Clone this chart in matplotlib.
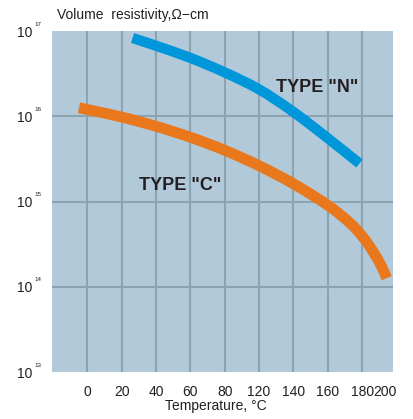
import numpy as np
import matplotlib.pyplot as plt
import matplotlib.transforms as mtransforms
from matplotlib.path import Path
from matplotlib.patches import PathPatch

plt.rcParams['font.family'] = ['Liberation Sans', 'DejaVu Sans']

# Data (x in chart grid units, 20 per grid cell) ==========================
n_x = [26.4, 40.4, 60.2, 80.1, 100.1, 120.3, 140.2, 158.4]
n_y = [8.28e16, 6.67e16, 4.82e16, 3.26e16, 2.06e16, 1.11e16, 5.48e15, 2.79e15]

c_x = [-4.8, 0.0, 20.4, 40.4, 60.2, 80.1, 100.1, 120.3, 140.2, 152.8,
       160.6, 166.4, 171.3, 174.2]
c_y = [1.26e16, 1.20e16, 9.75e15, 7.58e15, 5.65e15, 3.98e15, 2.62e15,
       1.60e15, 8.98e14, 5.61e14, 3.78e14, 2.56e14, 1.72e14, 1.26e14]

x_ticks = [0, 20, 40, 60, 80, 100, 120, 140, 160, 173]
x_labels = ['0', '20', '40', '60', '80', '120', '140', '160', '180', '200']
y_exp = [13, 14, 15, 16, 17]

# Colors
bg = '#b2c9da'
grid_c = '#8aa4b0'
blue = '#0096da'
orange = '#e9771c'
txt = '#231f20'


def smooth_path(xs, ys):
    # Catmull-Rom through the points, done in (x, log10 y) space
    p = np.column_stack([xs, np.log10(ys)])
    verts = [p[0]]
    codes = [Path.MOVETO]
    for i in range(len(p) - 1):
        p0 = p[max(i - 1, 0)]
        p1, p2 = p[i], p[i + 1]
        p3 = p[min(i + 2, len(p) - 1)]
        verts += [p1 + (p2 - p0) / 6, p2 - (p3 - p1) / 6, p2]
        codes += [Path.CURVE4] * 3
    verts = np.array(verts)
    verts[:, 1] = 10 ** verts[:, 1]
    return Path(verts, codes)


# Plot =============================================
fig = plt.figure(figsize=(4.13, 4.19), dpi=100)
ax = fig.add_axes([52/413, 1 - 372/419, 341/413, 341/419])
ax.set_facecolor(bg)
ax.set_yscale('log')
ax.set_xlim(-20.5, 177.9)
ax.set_ylim(1e13, 1e17)

ax.add_patch(PathPatch(smooth_path(n_x, n_y), fill=False, ec=blue, lw=7.4,
                       capstyle='butt', joinstyle='round', zorder=3))
ax.add_patch(PathPatch(smooth_path(c_x, c_y), fill=False, ec=orange, lw=7.8,
                       capstyle='butt', joinstyle='round', zorder=3))

ax.set_xticks(x_ticks)
ax.set_xticklabels(x_labels)
ax.set_yticks([10.0**e for e in y_exp])
ax.set_yticklabels(['10'] * len(y_exp))
ax.minorticks_off()
ax.tick_params(length=0, labelsize=10, colors=txt)
ax.tick_params(axis='x', pad=9)
ax.tick_params(axis='y', pad=14)

# small superscript exponents next to the "10" labels
trans = mtransforms.blended_transform_factory(fig.transFigure, ax.transData)
off = mtransforms.offset_copy(trans, fig=fig, x=0, y=5, units='points')
for e in y_exp:
    ax.text(34/413, 10.0**e, str(e), fontsize=4.5, color=txt, ha='left',
            va='center', transform=off, clip_on=False)

ax.set_axisbelow(True)
ax.grid(True, color=grid_c, lw=1.5)
ax.get_xgridlines()[-1].set_visible(False)
ax.get_ygridlines()[0].set_visible(False)
ax.get_ygridlines()[-1].set_visible(False)
for s in ax.spines.values():
    s.set_visible(False)

ax.text(134, 10**(17 - (87 - 31)/85.25), 'TYPE "N"', fontsize=13,
        fontweight='bold', color=txt, ha='center', va='center', zorder=4)
ax.text(54, 10**(17 - (185 - 31)/85.25), 'TYPE "C"', fontsize=13,
        fontweight='bold', color=txt, ha='center', va='center', zorder=4)

fig.text(57/413, 1 - 15/419, 'Volume  resistivity,\u03a9\u2212cm', fontsize=10,
         color=txt, ha='left', va='center')
fig.text(216/413, 1 - 406/419, 'Temperature, \u00b0C', fontsize=10,
         color=txt, ha='center', va='center')

fig.savefig('out.png', dpi=100, facecolor='white')
